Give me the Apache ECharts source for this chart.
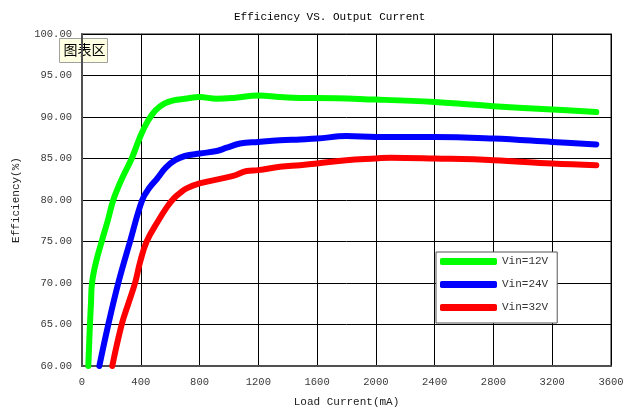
<!DOCTYPE html>
<html>
<head>
<meta charset="utf-8">
<script src="https://cdn.jsdelivr.net/npm/echarts@6/dist/echarts.min.js"></script>
<style>
html,body{margin:0;padding:0;background:#fff;}
#chart{width:632px;height:413px;}
</style>
</head>
<body>
<div id="chart"></div>
<script>
var titleText = 'Efficiency VS. Output Current';
var xName = 'Load Current(mA)';
var yName = 'Efficiency(%)';
var seriesNames = ['Vin=12V', 'Vin=24V', 'Vin=32V'];
var seriesColors = ['#00ff00', '#0000ff', '#ff0000'];

var current12 = [43, 54, 61, 68, 95, 134, 175, 213, 270, 338, 400, 451, 500, 560, 622, 700, 800, 917, 1029, 1200, 1347, 1484, 1600, 2000, 2400, 2800, 3200, 3500];
var eff12 = [60, 65, 67.5, 70, 72.5, 75, 77.5, 80, 82.5, 85, 87.8, 89.6, 90.8, 91.6, 92.0, 92.2, 92.4, 92.2, 92.3, 92.6, 92.4, 92.3, 92.3, 92.1, 91.8, 91.3, 90.9, 90.6];

var current24 = [118, 179, 247, 327, 410, 460, 508, 570, 633, 700, 800, 917, 985, 1075, 1200, 1347, 1484, 1600, 1800, 2000, 2400, 2800, 3200, 3500];
var eff24 = [60, 65, 70, 75, 80, 81.5, 82.5, 83.9, 84.8, 85.3, 85.6, 85.9, 86.3, 86.8, 87.0, 87.2, 87.3, 87.4, 87.7, 87.6, 87.6, 87.4, 87.0, 86.7];

var current32 = [206, 270, 315, 361, 395, 440, 519, 580, 625, 670, 712, 800, 1029, 1121, 1200, 1347, 1484, 1600, 1800, 2000, 2100, 2400, 2800, 3200, 3500];
var eff32 = [60, 65, 67.5, 70, 72.5, 75, 77.5, 79.2, 80.2, 80.9, 81.4, 82.0, 82.9, 83.5, 83.6, 84.0, 84.2, 84.4, 84.8, 85.0, 85.1, 85.0, 84.8, 84.4, 84.2];

var xMin = 0, xMax = 3600, xStep = 400;
var yMin = 60, yMax = 100, yStep = 5;

function pairs(xs, ys) { return xs.map(function (x, i) { return [x, ys[i]]; }); }
var allData = [pairs(current12, eff12), pairs(current24, eff24), pairs(current32, eff32)];

var mono = '"Liberation Mono", "DejaVu Sans Mono", monospace';
var chart = echarts.init(document.getElementById('chart'), null, {renderer: 'canvas'});

chart.setOption({
  backgroundColor: '#ffffff',
  animation: false,
  title: {
    text: titleText,
    left: 229, top: 7,
    textStyle: {fontFamily: mono, fontSize: 11, fontWeight: 'normal', color: '#000'}
  },
  grid: {
    left: 82, top: 34, right: 21, bottom: 46,
    show: true, borderColor: '#8a8a8a', borderWidth: 2, backgroundColor: '#fff'
  },
  legend: {
    orient: 'vertical',
    left: 436, top: 252,
    backgroundColor: '#fff',
    borderColor: '#555', borderWidth: 1,
    padding: [4, 9, 10, 4],
    itemWidth: 57, itemHeight: 7, itemGap: 12, itemTextGap: 2,
    icon: 'roundRect',
    textStyle: {fontFamily: mono, fontSize: 11, color: '#333'},
    data: seriesNames
  },
  xAxis: {
    type: 'value', min: xMin, max: xMax, interval: xStep,
    name: xName, nameLocation: 'middle', nameGap: 31,
    nameTextStyle: {fontFamily: mono, fontSize: 11, color: '#222'},
    axisLine: {show: true, lineStyle: {color: '#505050', width: 2}},
    axisTick: {show: false},
    axisLabel: {fontFamily: mono, fontSize: 10.5, color: '#3a3a3a', margin: 11,
      formatter: function (v) { return String(v); }},
    splitLine: {show: true, lineStyle: {color: '#000', width: 1}}
  },
  yAxis: {
    type: 'value', min: yMin, max: yMax, interval: yStep,
    name: yName, nameLocation: 'middle', nameGap: 60, nameRotate: 90,
    nameTextStyle: {fontFamily: mono, fontSize: 11, color: '#222'},
    axisLine: {show: true, lineStyle: {color: '#505050', width: 2}},
    axisTick: {show: false},
    axisLabel: {fontFamily: mono, fontSize: 10.5, color: '#3a3a3a', margin: 10,
      formatter: function (v) { return v.toFixed(2); }},
    splitLine: {show: true, lineStyle: {color: '#000', width: 1}}
  },
  series: seriesNames.map(function (n, i) {
    return {
      name: n, type: 'line', data: allData[i],
      symbol: 'none', smooth: 0.4,
      color: seriesColors[i],
      lineStyle: {color: seriesColors[i], width: 6, cap: 'round', join: 'round'},
      z: 3
    };
  }),
  graphic: [{
    type: 'group', left: 59, top: 38, z: 100,
    children: [
      {type: 'rect', shape: {x: 0, y: 0, width: 48, height: 24},
       style: {fill: '#ffffe1', stroke: '#a0a0a0', lineWidth: 1}},
      {type: 'text', x: 4, y: 4,
       style: {text: '图表区', font: '14px "Noto Sans CJK SC"', fill: '#000'}}
    ]
  }]
});
</script>
</body>
</html>
